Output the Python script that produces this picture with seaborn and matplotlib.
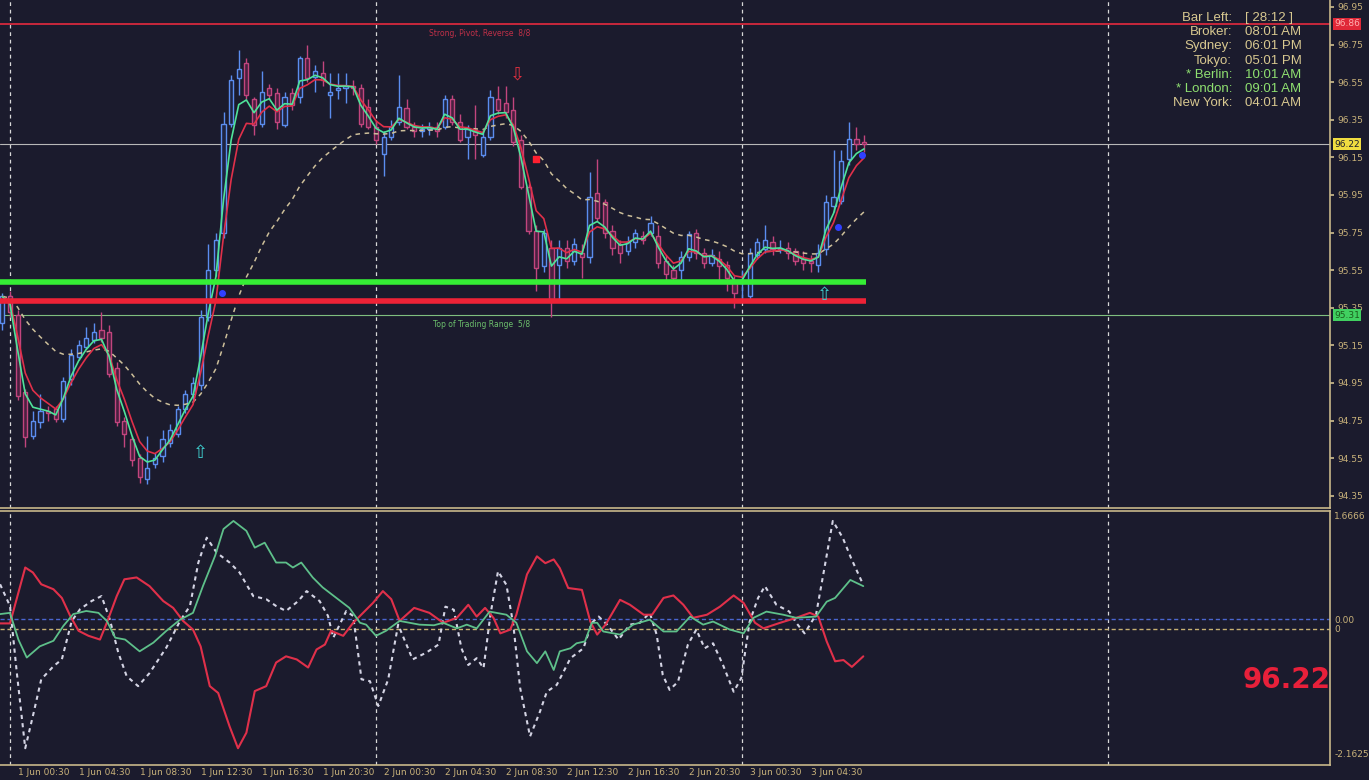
import numpy as np
import pandas as pd
import matplotlib
matplotlib.use("Agg")
import matplotlib.pyplot as plt
import seaborn as sns
from matplotlib.transforms import blended_transform_factory

# ---- data: 30-minute bars, bar 0 = 1 Jun 00:00 ----
bars = list(range(-1, 113))
opens = [95.27, 95.41, 95.31, 94.90, 94.67, 94.74, 94.80, 94.81, 94.76, 94.97,
         95.09, 95.14, 95.18, 95.23, 95.22, 95.03, 94.75, 94.65, 94.55, 94.44,
         94.52, 94.56, 94.63, 94.68, 94.81, 94.89, 94.94, 95.30, 95.55, 95.75,
         96.33, 96.57, 96.65, 96.46, 96.33, 96.52, 96.49, 96.32, 96.49, 96.47,
         96.68, 96.58, 96.60, 96.48, 96.51, 96.52, 96.53, 96.52, 96.42, 96.31,
         96.17, 96.26, 96.34, 96.41, 96.31, 96.29, 96.30, 96.31, 96.31, 96.46,
         96.34, 96.26, 96.29, 96.16, 96.26, 96.46, 96.44, 96.40, 96.24, 95.99,
         95.76, 95.57, 95.67, 95.58, 95.67, 95.60, 95.64, 95.62, 95.96, 95.91,
         95.76, 95.69, 95.65, 95.70, 95.73, 95.75, 95.73, 95.60, 95.55, 95.55,
         95.62, 95.75, 95.64, 95.59, 95.61, 95.58, 95.50, 95.48, 95.41, 95.63,
         95.66, 95.70, 95.66, 95.67, 95.65, 95.61, 95.60, 95.58, 95.66, 95.89,
         95.92, 96.14, 96.25, 96.23]
highs = [95.43, 95.44, 95.34, 94.92, 94.80, 94.89, 94.83, 94.83, 94.98, 95.13,
         95.18, 95.25, 95.27, 95.33, 95.26, 95.06, 94.77, 94.67, 94.57, 94.67,
         94.58, 94.70, 94.73, 94.83, 94.91, 94.98, 95.34, 95.69, 95.75, 96.39,
         96.59, 96.72, 96.68, 96.47, 96.61, 96.54, 96.52, 96.50, 96.52, 96.69,
         96.75, 96.64, 96.66, 96.60, 96.60, 96.60, 96.56, 96.54, 96.46, 96.35,
         96.29, 96.35, 96.59, 96.46, 96.34, 96.33, 96.34, 96.34, 96.48, 96.48,
         96.38, 96.32, 96.43, 96.29, 96.51, 96.53, 96.53, 96.47, 96.27, 96.01,
         95.79, 95.77, 95.71, 95.71, 95.71, 95.72, 95.69, 96.07, 96.14, 95.93,
         95.79, 95.71, 95.73, 95.77, 95.76, 95.84, 95.79, 95.63, 95.58, 95.65,
         95.76, 95.77, 95.67, 95.66, 95.65, 95.60, 95.52, 95.55, 95.67, 95.72,
         95.79, 95.73, 95.71, 95.70, 95.67, 95.65, 95.63, 95.69, 95.95, 96.19,
         96.19, 96.34, 96.31, 96.27]
lows = [95.23, 95.30, 94.86, 94.61, 94.65, 94.71, 94.75, 94.74, 94.74, 94.94,
        95.07, 95.13, 95.16, 95.17, 94.98, 94.72, 94.61, 94.51, 94.42, 94.41,
        94.50, 94.53, 94.61, 94.66, 94.79, 94.86, 94.91, 95.28, 95.52, 95.72,
        96.31, 96.48, 96.46, 96.27, 96.31, 96.46, 96.30, 96.31, 96.40, 96.44,
        96.55, 96.50, 96.53, 96.36, 96.46, 96.44, 96.48, 96.31, 96.30, 96.22,
        96.05, 96.24, 96.32, 96.30, 96.26, 96.26, 96.27, 96.26, 96.30, 96.32,
        96.23, 96.14, 96.14, 96.15, 96.24, 96.38, 96.36, 96.21, 95.98, 95.74,
        95.44, 95.54, 95.30, 95.39, 95.56, 95.58, 95.51, 95.59, 95.81, 95.72,
        95.63, 95.59, 95.63, 95.67, 95.69, 95.73, 95.56, 95.50, 95.48, 95.48,
        95.60, 95.61, 95.56, 95.57, 95.50, 95.44, 95.35, 95.39, 95.38, 95.61,
        95.64, 95.63, 95.64, 95.61, 95.58, 95.55, 95.54, 95.54, 95.63, 95.86,
        95.90, 96.11, 96.19, 96.18]
closes = [95.41, 95.33, 94.88, 94.66, 94.75, 94.80, 94.79, 94.76, 94.96, 95.10,
          95.15, 95.19, 95.22, 95.19, 95.00, 94.74, 94.68, 94.54, 94.45, 94.50,
          94.55, 94.65, 94.70, 94.81, 94.89, 94.95, 95.30, 95.55, 95.71, 96.33,
          96.56, 96.62, 96.48, 96.32, 96.50, 96.48, 96.34, 96.47, 96.43, 96.68,
          96.57, 96.61, 96.56, 96.50, 96.52, 96.53, 96.52, 96.33, 96.31, 96.24,
          96.26, 96.31, 96.42, 96.31, 96.29, 96.30, 96.31, 96.29, 96.46, 96.34,
          96.24, 96.30, 96.27, 96.26, 96.47, 96.40, 96.39, 96.23, 95.99, 95.76,
          95.56, 95.75, 95.39, 95.67, 95.60, 95.69, 95.62, 95.94, 95.83, 95.75,
          95.67, 95.64, 95.70, 95.75, 95.71, 95.80, 95.59, 95.53, 95.51, 95.62,
          95.74, 95.64, 95.59, 95.63, 95.57, 95.51, 95.43, 95.50, 95.64, 95.70,
          95.71, 95.66, 95.67, 95.64, 95.60, 95.59, 95.59, 95.64, 95.91, 95.94,
          96.13, 96.25, 96.22, 96.22]

# oscillator window (vertices)
red_bar = [-1.3, 0, 2, 3, 4.1, 5.7, 6.8, 7.9, 9, 10.3, 11.8, 12.7, 14, 15, 16.6,
           18.3, 20.1, 21.4, 22.7, 24, 25, 26.2, 27.3, 28.8, 29.9, 31, 32.1, 33.6,
           34.9, 36.2, 37.6, 39.1, 40.2, 41.3, 42.1, 43.7, 45, 46.3, 47.6, 48.9,
           50, 51.1, 53, 55, 56.8, 58.6, 60.1, 61.2, 62.3, 63.4, 64.3, 65.6, 66.4,
           67.8, 69.1, 70.2, 71.3, 72.1, 73.2, 75, 76.1, 77, 78.1, 80, 81.3, 83.1,
           84.2, 85.7, 87, 88.3, 89.6, 91.4, 93.1, 94.9, 96.2, 97.7, 98.8, 101,
           103.1, 104.9, 106, 107.1, 108.2, 109.3, 110.4, 111.9]
red_val = [-0.07, -0.07, 0.83, 0.75, 0.56, 0.48, 0.34, 0.05, -0.19, -0.27, -0.33,
           -0.06, 0.37, 0.64, 0.67, 0.53, 0.29, 0.18, -0.03, -0.17, -0.44, -1.08,
           -1.19, -1.73, -2.08, -1.83, -1.16, -1.08, -0.70, -0.60, -0.65, -0.78,
           -0.49, -0.41, -0.19, -0.27, -0.06, 0.10, 0.26, 0.45, 0.32, -0.03, 0.18,
           0.10, -0.06, 0.02, 0.23, 0.04, 0.18, 0.02, -0.23, -0.17, 0.07, 0.72,
           1.01, 0.90, 0.96, 0.82, 0.50, 0.47, -0.04, -0.25, -0.09, 0.31, 0.23,
           0.07, 0.07, 0.34, 0.38, 0.23, 0.02, 0.07, 0.20, 0.38, 0.26, -0.06,
           -0.15, -0.06, 0.02, 0.10, 0.04, -0.36, -0.68, -0.66, -0.77, -0.60]
green_bar = [-1.3, 0, 1.1, 2.2, 3.9, 5.7, 7, 8.3, 10, 11.6, 12.7, 13.8, 15.1, 17,
             18.8, 20.5, 22.3, 24, 25.3, 26.9, 28, 29.3, 31, 32.1, 33.4, 34.9,
             36.2, 37.1, 38.2, 39.7, 41, 42.8, 44.5, 45.9, 46.7, 48, 49.3, 51.1,
             53.7, 55.6, 56.8, 58.6, 59.9, 61.2, 62.9, 65.1, 66.4, 67.8, 69.1,
             70.2, 71.3, 72.1, 73.5, 74.3, 75.4, 76.3, 77, 77.8, 80, 81.7, 83.9,
             85.7, 87.4, 89.2, 90.9, 92.2, 94.4, 96.2, 97.5, 99.2, 101.4, 103.1,
             105.7, 107.1, 108.2, 110.2, 111.9]
green_val = [0.08, 0.10, -0.33, -0.62, -0.44, -0.35, -0.11, 0.08, 0.13, 0.10,
             -0.03, -0.30, -0.33, -0.52, -0.38, -0.19, -0.01, 0.10, 0.53, 1.02,
             1.45, 1.58, 1.42, 1.15, 1.23, 0.91, 0.91, 0.83, 0.91, 0.67, 0.51,
             0.34, 0.18, -0.06, -0.09, -0.27, -0.19, -0.03, -0.09, -0.10, -0.06,
             -0.15, -0.09, -0.15, 0.12, 0.07, -0.06, -0.52, -0.71, -0.52, -0.82,
             -0.52, -0.47, -0.39, -0.36, -0.06, -0.06, -0.20, -0.25, -0.09, -0.01,
             -0.20, -0.20, 0.04, -0.09, -0.04, -0.17, -0.23, 0.02, 0.12, 0.07,
             0.02, 0.04, 0.28, 0.34, 0.63, 0.53]
dot_bar = [-1.3, 0, 0.9, 2, 3.1, 4.1, 5.7, 6.8, 8.1, 9.2, 10.7, 12, 13.1, 14.2,
           15.3, 16.8, 18.3, 20.5, 22.3, 23.6, 24.7, 25.8, 27.1, 28.8, 30.1, 31.9,
           33.6, 34.9, 36.2, 37.8, 38.9, 40.6, 41.7, 42.4, 44.1, 45, 46.1, 47.2,
           48.3, 49.6, 50.9, 52.8, 54.6, 56.2, 57.1, 58.2, 59.2, 60.1, 61.2, 62.1,
           63, 64, 65.1, 66, 66.9, 68.2, 69.5, 70.4, 71.7, 73.5, 75.2, 76.3, 77.2,
           78.3, 79.8, 81.3, 82.6, 83.9, 84.8, 85.6, 86.5, 87.6, 88.9, 90, 91.1,
           92.2, 93.5, 94.9, 95.9, 97, 98.1, 99, 100.5, 102.2, 103.1, 104.2,
           105.7, 106.8, 107.9, 109.2, 110.3, 111.9]
dot_val = [0.56, 0.21, -0.87, -2.08, -1.51, -0.97, -0.76, -0.65, -0.03, 0.16,
           0.29, 0.37, -0.01, -0.54, -0.92, -1.08, -0.87, -0.46, -0.03, 0.21,
           0.91, 1.31, 1.07, 0.91, 0.75, 0.37, 0.32, 0.21, 0.13, 0.29, 0.45,
           0.29, 0.05, -0.30, 0.13, 0.05, -0.97, -1.00, -1.40, -0.97, -0.09,
           -0.65, -0.54, -0.41, 0.20, 0.15, -0.47, -0.74, -0.63, -0.79, 0.07,
           0.77, 0.55, -0.09, -1.11, -1.89, -1.49, -1.17, -1.06, -0.63, -0.47,
           -0.06, 0.04, -0.09, -0.33, -0.09, -0.06, 0.10, -0.25, -0.90, -1.14,
           -1.01, -0.41, -0.17, -0.47, -0.39, -0.74, -1.17, -0.95, -0.04, 0.34,
           0.53, 0.23, 0.12, -0.06, -0.23, 0.07, 0.82, 1.58, 1.31, 0.98, 0.55]

price_ticks = [96.95, 96.75, 96.55, 96.35, 96.15, 95.95, 95.75, 95.55, 95.35,
               95.15, 94.95, 94.75, 94.55, 94.35]
day_bars = [0, 48, 96, 144]
time_tick_bars = list(range(1, 106, 8))
time_tick_labels = ["1 Jun 00:30", "1 Jun 04:30", "1 Jun 08:30", "1 Jun 12:30",
                    "1 Jun 16:30", "1 Jun 20:30", "2 Jun 00:30", "2 Jun 04:30",
                    "2 Jun 08:30", "2 Jun 12:30", "2 Jun 16:30", "2 Jun 20:30",
                    "3 Jun 00:30", "3 Jun 04:30"]

pivot_level = 96.86
bid = 96.22
range_top = 95.31
support_green = 95.487
support_red = 95.386

info_labels = ["Bar Left:", "Broker:", "Sydney:", "Tokyo:", "* Berlin:", "* London:", "New York:"]
info_values = ["[ 28:12 ]", "08:01 AM", "06:01 PM", "05:01 PM", "10:01 AM", "09:01 AM", "04:01 AM"]

# ---- style ----
BG = "#1b1b2d"
SPINE = "#c8b88a"
TXT = "#c9b27a"

sns.set_theme(style="dark", rc={"axes.facecolor": BG, "figure.facecolor": BG})
plt.rcParams["font.family"] = ["DejaVu Sans"]

fig = plt.figure(figsize=(13.69, 7.8), dpi=100, facecolor=BG)
ax = fig.add_axes([0, 1 - 508 / 780, 1330 / 1369, 508 / 780])
ax2 = fig.add_axes([0, 15 / 780, 1330 / 1369, (765 - 511) / 780])

x0, x1 = -1.31, 173.1
df = pd.DataFrame({"bar": bars, "open": opens, "high": highs, "low": lows, "close": closes})
df["fast"] = df["close"].ewm(span=3, adjust=False).mean()
df["mid"] = df["close"].ewm(span=4.5, adjust=False).mean()
df["slow"] = df["close"].ewm(span=20, adjust=False).mean()

# ---- price panel ----
for a in (ax, ax2):
    a.set_facecolor(BG)
    a.set_xlim(x0, x1)
    a.spines["left"].set_visible(False)
    for s in ("right", "bottom", "top"):
        a.spines[s].set_color(SPINE)
        a.spines[s].set_linewidth(1.2)
    a.grid(False)
    for d in day_bars:
        a.axvline(d, color="#d8d8d8", lw=0.9, ls=(0, (3, 3)), zorder=1)
ax.spines["top"].set_visible(False)

ax.set_ylim(94.285, 96.987)

up = df["close"] >= df["open"]
colors = np.where(up, "#5b8def", "#c2457e")
faces = np.where(up, "#1f2440", "#4a2040")
ax.vlines(df["bar"], df["low"], df["high"], colors=colors, lw=1.0, zorder=3)
ax.bar(df["bar"], (df["close"] - df["open"]).abs().clip(lower=0.004),
       bottom=np.minimum(df["open"], df["close"]), width=0.55,
       color=faces, edgecolor=colors, linewidth=1.0, zorder=4)

sns.lineplot(data=df, x="bar", y="slow", ax=ax, color="#cdbf9a", lw=1.1,
             linestyle=(0, (3, 3)), zorder=5, estimator=None)
sns.lineplot(data=df, x="bar", y="mid", ax=ax, color="#e0304a", lw=1.2, zorder=6, estimator=None)
sns.lineplot(data=df, x="bar", y="fast", ax=ax, color="#4fe39a", lw=1.2, zorder=7, estimator=None)

ax.axhline(pivot_level, color="#c8283c", lw=1.4, zorder=2)
ax.axhline(bid, color="#b8b8b8", lw=0.8, zorder=2)
ax.axhline(range_top, color="#7fbf7f", lw=0.8, zorder=2)
ax.hlines(support_green, x0, 112.3, color="#35ee35", lw=4, zorder=8)
ax.hlines(support_red, x0, 112.3, color="#ee2236", lw=4, zorder=8)

ax.text(61.6, 96.81, "Strong, Pivot, Reverse  8/8", color="#c03048", fontsize=5.5,
        ha="center", va="center")
ax.text(61.9, 95.26, "Top of Trading Range  5/8", color="#6cbf6c", fontsize=5.5,
        ha="center", va="center")

# signal arrows and dots
ax.text(25, 94.58, "\u21e7", color="#3fd0d0", fontsize=13, ha="center", va="center", zorder=9)
ax.text(106.8, 95.42, "\u21e7", color="#3fd0d0", fontsize=13, ha="center", va="center", zorder=9)
ax.text(66.6, 96.59, "\u21e9", color="#e03040", fontsize=13, ha="center", va="center", zorder=9)
ax.scatter([69], [96.14], marker="s", s=14, color="#ff2030", zorder=9)
ax.scatter([27.8, 108.6, 111.7], [95.43, 95.78, 96.16], s=16, color="#3040ff", zorder=9)

ax.yaxis.tick_right()
ax.set_yticks(price_ticks)
ax.set_yticklabels([f"{p:.2f}" for p in price_ticks])
ax.tick_params(axis="y", colors=SPINE, labelcolor=TXT, labelsize=6.5, length=3, pad=2)
ax.set_xticks([])
ax.set_xlabel("")
ax.set_ylabel("")

tr = blended_transform_factory(ax.transAxes, ax.transData)
ax.text(1.003, bid, f"{bid:.2f}", transform=tr, fontsize=6.5, color="#1b1b2d",
        va="center", ha="left", bbox=dict(boxstyle="square,pad=0.15", fc="#f0dc40", ec="none"))
ax.text(1.003, pivot_level, f"{pivot_level:.2f}", transform=tr, fontsize=6.5, color="#ffb0b0",
        va="center", ha="left", bbox=dict(boxstyle="square,pad=0.15", fc="#e02838", ec="none"))
ax.text(1.003, range_top, f"{range_top:.2f}", transform=tr, fontsize=6.5, color="#1b5b1b",
        va="center", ha="left", bbox=dict(boxstyle="square,pad=0.15", fc="#40d060", ec="none"))

# ---- oscillator panel ----
ax2.set_ylim(-2.35, 1.74)
ax2.axhline(0, color="#4a66d0", lw=1, ls=(0, (3, 2)), zorder=2)
ax2.axhline(-0.16, color="#c8b070", lw=1, ls=(0, (3, 2)), zorder=2)
sns.lineplot(x=dot_bar, y=dot_val, ax=ax2, color="#d4d4e4", lw=1.5,
             linestyle=(0, (2, 2)), zorder=4, estimator=None)
sns.lineplot(x=red_bar, y=red_val, ax=ax2, color="#e0304a", lw=1.5, zorder=5, estimator=None)
sns.lineplot(x=green_bar, y=green_val, ax=ax2, color="#5ec08a", lw=1.3, zorder=6, estimator=None)

ax2.yaxis.tick_right()
ax2.set_yticks([1.6666, 0, -0.16, -2.1625])
ax2.set_yticklabels(["1.6666", "0.00", "0", "-2.1625"])
ax2.tick_params(axis="y", colors=BG, labelcolor=TXT, labelsize=6.5, length=0, pad=3)
ax2.set_xticks(time_tick_bars)
ax2.set_xticklabels(time_tick_labels, ha="left")
ax2.tick_params(axis="x", colors=SPINE, labelcolor=TXT, labelsize=6.5,
                direction="in", length=3, pad=2)
ax2.set_xlabel("")
ax2.set_ylabel("")

ax2.text(1287 / 1330, 0.335, "96.22", transform=ax2.transAxes, color="#e8203a",
         fontsize=20, fontweight="bold", ha="center", va="center")

# ---- info panel ----
for k, (lab, val) in enumerate(zip(info_labels, info_values)):
    c = "#8fe070" if "*" in lab else "#d8c890"
    yy = 1 - (18 + 14.2 * k) / 780
    fig.text(1232 / 1369, yy, lab, color=c, fontsize=9.5, ha="right", va="center",
             family=["Liberation Sans", "DejaVu Sans"])
    fig.text(1245 / 1369, yy, val, color=c, fontsize=9.5, ha="left", va="center",
             family=["Liberation Sans", "DejaVu Sans"])

fig.savefig("out.png", dpi=100, facecolor=BG)
